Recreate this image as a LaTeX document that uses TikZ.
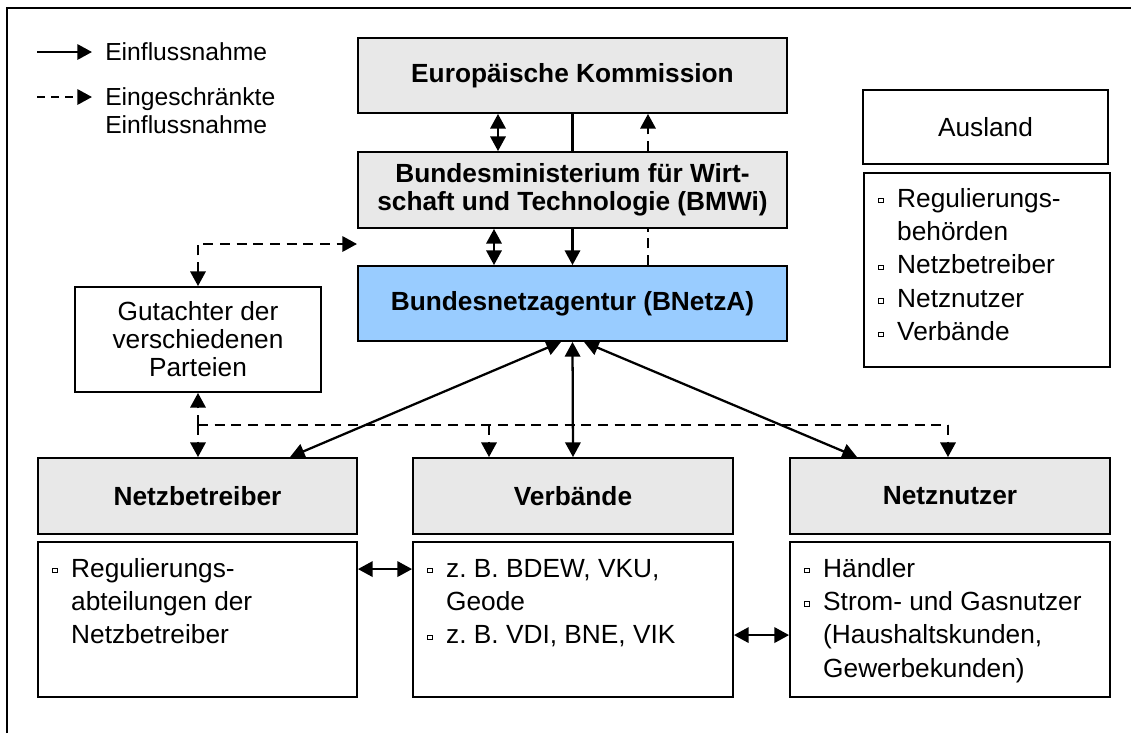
\documentclass[tikz,border=0pt]{standalone}
\usepackage{fontspec}
\setmainfont{Liberation Sans}
\usetikzlibrary{arrows.meta,calc}
\definecolor{boxgray}{HTML}{E8E8E8}
\definecolor{bnblue}{HTML}{99CCFF}
\frenchspacing
\newcommand\bsq{\raisebox{3.4pt}{\setlength\fboxsep{0pt}\setlength\fboxrule{0.6pt}\fbox{\rule{0pt}{3pt}\hspace{3pt}}}}
\newcommand\mainfs{\fontsize{19.7}{25.1}\selectfont}
\newcommand\tightfs{\fontsize{19.7}{21}\selectfont}
\newcommand\legfs{\fontsize{18.5}{21}\selectfont}
\tikzset{
  box/.style={draw, line width=1.4pt, inner sep=0pt, align=center},
  gbox/.style={box, fill=boxgray},
  ln/.style={line width=1.7pt},
  tipS/.tip={Triangle[length=11pt,width=11.5pt]},
  arr/.style={ln, -tipS},
  darr/.style={ln, tipS-tipS},
  dsh/.style={ln, dash pattern=on 7.5pt off 5pt},
  listtext/.style={anchor=base west, inner sep=0pt, font=\mainfs}
}
\begin{document}
\begin{tikzpicture}[x=0.75pt,y=-0.75pt]
\useasboundingbox (0,0) rectangle (1131,733);
% frame
\draw[line width=1.6pt] (7,733) -- (7,8) -- (1131,8);

% legend
\coordinate (l1a) at (37,52);  \coordinate (l1b) at (92,52);
\coordinate (l2a) at (37,97);  \coordinate (l2b) at (92,97);
\draw[arr] (l1a) -- (l1b);
\draw[ln,-tipS,dash pattern=on 6pt off 4.5pt] (l2a) -- (l2b);
\node[anchor=west, inner sep=0pt, font=\legfs] (leg1) at (105,52) {Einflussnahme};
\node[anchor=west, inner sep=0pt, font=\legfs, align=left] (leg2) at (105,111) {Eingeschränkte\\Einflussnahme};

% main column
\node[gbox, minimum width=321.75pt, minimum height=56.25pt, font=\fontsize{19.7}{21}\selectfont\bfseries] (ek) at (572.5,75.5) {Europäische Kommission};
\node[gbox, minimum width=321.75pt, minimum height=57pt, font=\fontsize{19.7}{21}\selectfont\bfseries] (bm) at (572.5,190) {Bundesministerium für Wirt-\\schaft und Technologie (BMWi)};
\node[box, fill=bnblue, minimum width=321.75pt, minimum height=56.25pt, font=\fontsize{19.7}{21}\selectfont\bfseries] (bn) at (572.5,303.5) {Bundesnetzagentur (BNetzA)};

% Ausland
\node[box, minimum width=183.75pt, minimum height=55.5pt, font=\mainfs] (au) at (985.5,127) {Ausland};
\node[box, minimum width=184.5pt, minimum height=145.5pt] (aul) at (987,270) {};
\node[listtext] (aut) at (878,207) {\begin{tabular}[t]{@{}l@{\hspace{10pt}}l@{}}
\bsq & Regulierungs-\\ & behörden\\ \bsq & Netzbetreiber\\ \bsq & Netznutzer\\ \bsq & Verbände\end{tabular}};

% Gutachter
\node[box, minimum width=184.5pt, minimum height=78.75pt, font=\tightfs] (gu) at (198,339.5) {Gutachter der\\verschiedenen\\Parteien};

% bottom row
\node[gbox, minimum width=239.25pt, minimum height=57pt, font=\fontsize{19.7}{21}\selectfont\bfseries] (nb) at (197.5,496) {Netzbetreiber};
\node[gbox, minimum width=240pt, minimum height=57pt, font=\fontsize{19.7}{21}\selectfont\bfseries] (vb) at (573,496) {Verbände};
\node[gbox, minimum width=240pt, minimum height=57pt, font=\fontsize{19.7}{21}\selectfont\bfseries] (nn) at (950,496) {Netznutzer};

\node[box, minimum width=239.25pt, minimum height=116.25pt] (lo1) at (197.5,619.5) {};
\node[box, minimum width=240pt, minimum height=116.25pt] (lo2) at (573,619.5) {};
\node[box, minimum width=240pt, minimum height=116.25pt] (lo3) at (950,619.5) {};

\node[listtext] (lt1) at (52,577) {\begin{tabular}[t]{@{}l@{\hspace{10pt}}l@{}}
\bsq & Regulierungs-\\ & abteilungen der\\ & Netzbetreiber\end{tabular}};
\node[listtext] (lt2) at (427,577) {\begin{tabular}[t]{@{}l@{\hspace{10pt}}l@{}}
\bsq & z. B. BDEW, VKU,\\ & Geode\\ \bsq & z. B. VDI, BNE, VIK\end{tabular}};
\node[listtext] (lt3) at (804,577) {\begin{tabular}[t]{@{}l@{\hspace{10pt}}l@{}}
\bsq & Händler\\ \bsq & Strom- und Gasnutzer\\ & (Haushaltskunden,\\ & Gewerbekunden)\end{tabular}};

% connectors top column
\coordinate (xa) at (498,0);
\coordinate (xb) at (494,0);
\coordinate (xm) at (572.5,0);
\coordinate (xd) at (648,0);
\draw[darr] (ek.south -| xa) -- (bm.north -| xa);
\draw[ln] (ek.south -| xm) -- (bm.north -| xm);
\draw[dsh,-tipS] (bm.north -| xd) -- (ek.south -| xd);
\draw[darr] (bm.south -| xb) -- (bn.north -| xb);
\draw[arr] (bm.south -| xm) -- (bn.north -| xm);
\draw[dsh] (bn.north -| xd) -- (bm.south -| xd);

% Gutachter dashed links
\coordinate (gend) at (357,244);
\draw[dsh,tipS-tipS] (gu.north) |- (gend);
\coordinate (dl) at (198,425);
\coordinate (dr) at (948,425);
\coordinate (dv) at (489,425);
\draw[dsh] (dl) -- (dr);
\draw[dsh,-tipS] (dl) -- (gu.south);
\draw[dsh,-tipS] (dl) -- (nb.north -| dl);
\draw[dsh,-tipS] (dv) -- (vb.north -| dv);
\draw[dsh,-tipS] (dr) -- (nn.north -| dr);

% BNetzA to bottom row
\draw[darr] ($(bn.south)+(-11.5,0)$) -- ($(nb.north)+(92.5,0)$);
\draw[darr] (bn.south) -- (vb.north);
\draw[darr] ($(bn.south)+(11.5,0)$) -- ($(nn.north)+(-93,0)$);

% lower horizontal links
\draw[darr] ($(lo1.north east)+(0,28)$) -- ($(lo2.north west)+(0,28)$);
\draw[darr] ($(lo2.north east)+(0,94)$) -- ($(lo3.north west)+(0,94)$);
\end{tikzpicture}
\end{document}
